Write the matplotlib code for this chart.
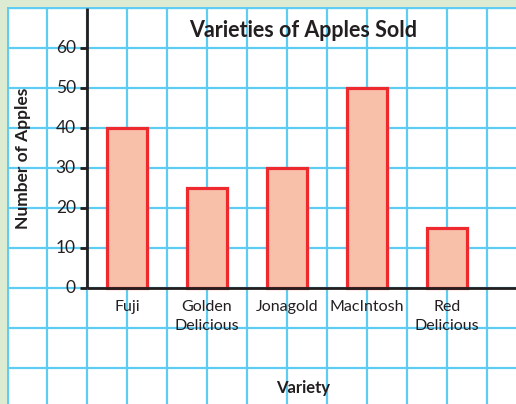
import numpy as np
import matplotlib.pyplot as plt

varieties = ['Fuji', 'Golden\nDelicious', 'Jonagold', 'MacIntosh', 'Red\nDelicious']
apples_sold = [40, 25, 30, 50, 15]
y_ticks = [0, 10, 20, 30, 40, 50, 60]

plt.rcParams['font.family'] = ['Lato', 'DejaVu Sans']
text_col = '#231f20'
grid_col = '#5fcdf3'

fig = plt.figure(figsize=(5.16, 4.04), dpi=100, facecolor='#dcebd2')
ax = fig.add_axes([7 / 516, 0, 1 - 7 / 516, 1 - 7 / 404])
ax.set_facecolor('white')
ax.set_xlim(-1.5, 4.8625)
ax.set_ylim(-29, 70.25)

# graph paper grid
for gx in np.arange(-1.5, 5.0, 0.5):
    ax.axvline(gx, color=grid_col, lw=1.6, zorder=0)
for gy in np.arange(-20, 71, 10):
    ax.axhline(gy, color=grid_col, lw=1.6, zorder=0)
ax.axvline(-1.5, color=grid_col, lw=3, zorder=0)
ax.axhline(70.25, color=grid_col, lw=3, zorder=0)

x = np.arange(len(varieties))
ax.bar(x, apples_sold, width=0.5, color='#f8c0a8', edgecolor='#ee2a2e',
       linewidth=2.3, zorder=3)

# axes lines
ax.plot([-0.5, -0.5], [0, 70], color=text_col, lw=2, zorder=4, solid_capstyle='butt')
ax.plot([-0.5, 4.8625], [0, 0], color=text_col, lw=2, zorder=4, solid_capstyle='butt')
for t in y_ticks:
    ax.plot([-0.59, -0.5], [t, t], color=text_col, lw=2, zorder=4, solid_capstyle='butt')
    ax.text(-0.64, t, str(t), ha='right', va='center', fontsize=12.5, color=text_col)

for xi, lab in zip(x, varieties):
    ax.text(xi, -3.0, lab, ha='center', va='top', fontsize=11.5, color=text_col,
            linespacing=1.45)

ax.text(2.2, 64.4, 'Varieties of Apples Sold', ha='center', va='center',
        fontsize=15.5, fontweight='bold', color=text_col)
ax.text(-1.3, 32.5, 'Number of Apples', ha='center', va='center', rotation=90,
        fontsize=12.5, fontweight='bold', color=text_col)
ax.text(2.2, -25, 'Variety', ha='center', va='center',
        fontsize=12, fontweight='bold', color=text_col)

for s in ax.spines.values():
    s.set_visible(False)
ax.set_xticks([])
ax.set_yticks([])

fig.savefig('out.png', dpi=100, facecolor=fig.get_facecolor())
